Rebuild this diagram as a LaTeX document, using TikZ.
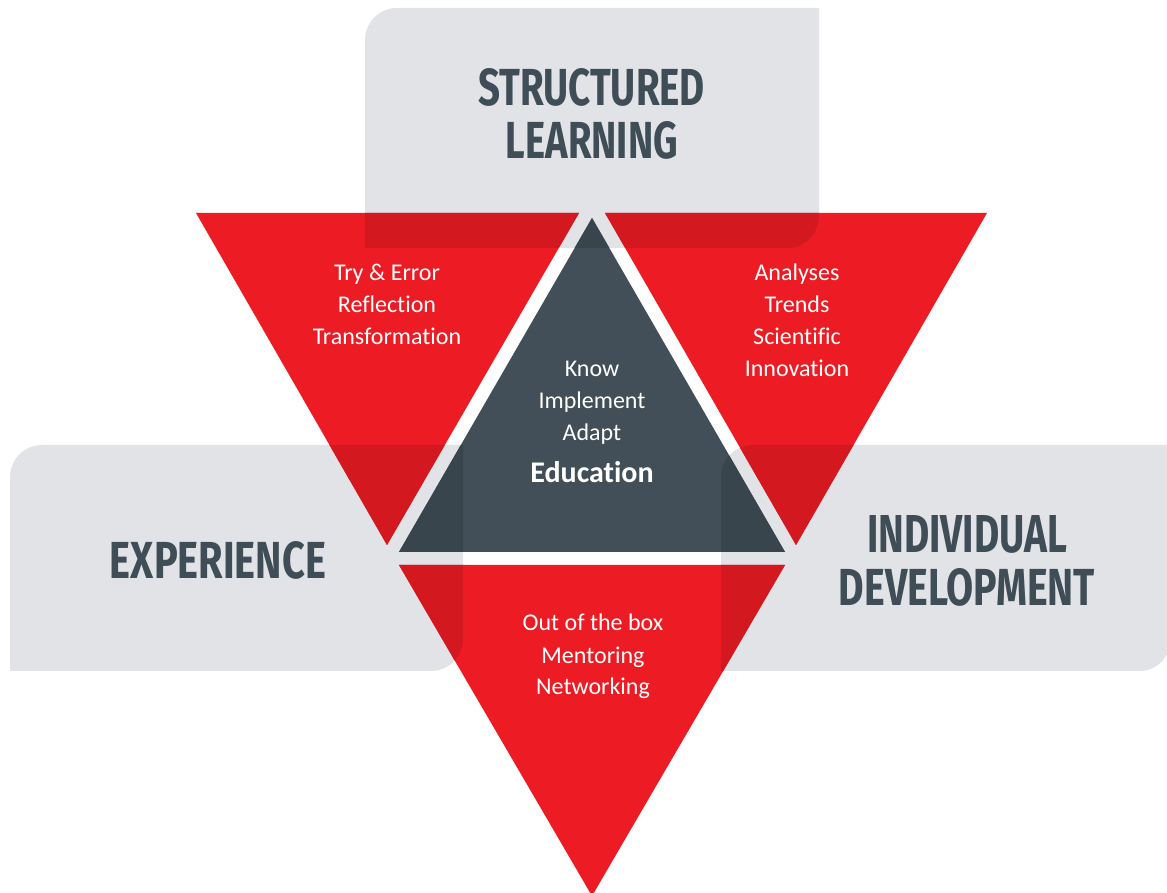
\documentclass[tikz,border=0pt]{standalone}
\usepackage{fontspec}
\setmainfont{Carlito}[Ligatures=NoCommon]
\newfontfamily\titlefont{Fira Sans}
\usepackage{graphicx}
\definecolor{cgray}{HTML}{E2E3E7}
\definecolor{cred}{HTML}{ED1C24}
\definecolor{credd}{HTML}{D3181F}
\definecolor{cslate}{HTML}{434F58}
\definecolor{cslated}{HTML}{39454D}
\definecolor{ctitle}{HTML}{3F4D57}
\tikzset{
  topbox/.style={insert path={(365,644) -- (365,852) arc[start angle=180,end angle=90,radius=32] -- (819,884) -- (819,676) arc[start angle=0,end angle=-90,radius=32] -- cycle}},
  leftbox/.style={insert path={(10,221) -- (10,415) arc[start angle=180,end angle=90,radius=32] -- (463,447) -- (463,253) arc[start angle=0,end angle=-90,radius=32] -- cycle}},
  rightbox/.style={insert path={(721,221) -- (721,415) arc[start angle=180,end angle=90,radius=32] -- (1170,447) -- (1170,251) arc[start angle=0,end angle=-90,radius=30] -- cycle}},
  lefttri/.style={insert path={(196,679) -- (579,679) -- (387,347) -- cycle}},
  righttri/.style={insert path={(605,679) -- (987,679) -- (796,347) -- cycle}},
  bottri/.style={insert path={(399,327) -- (785,327) -- (592,-4) -- cycle}},
  centri/.style={insert path={(592,674) -- (785,340) -- (399,340) -- cycle}},
  body/.style={text=white, font=\fontsize{24}{28}\selectfont, inner sep=0pt, anchor=base},
  bodybold/.style={text=white, font=\fontsize{30}{34}\selectfont\bfseries, inner sep=0pt, anchor=base},
  titletext/.style={text=ctitle, inner sep=0pt, anchor=base},
}
\newcommand{\ttl}[2]{\resizebox{#1pt}{37pt}{\titlefont\bfseries #2}}
\begin{document}
\begin{tikzpicture}[x=1pt,y=1pt]
\useasboundingbox (0,0) rectangle (1167,892);
\clip (0,0) rectangle (1167,892);
% gray panels
\fill[cgray, topbox];
\fill[cgray, leftbox];
\fill[cgray, rightbox];
% triangles
\fill[cred, lefttri];
\fill[cred, righttri];
\fill[cred, bottri];
\fill[cslate, centri];
% overlaps of panels and triangles
\begin{scope}
  \clip[lefttri];
  \fill[credd, topbox]; \fill[credd, leftbox]; \fill[credd, rightbox];
\end{scope}
\begin{scope}
  \clip[righttri];
  \fill[credd, topbox]; \fill[credd, leftbox]; \fill[credd, rightbox];
\end{scope}
\begin{scope}
  \clip[bottri];
  \fill[credd, topbox]; \fill[credd, leftbox]; \fill[credd, rightbox];
\end{scope}
\begin{scope}
  \clip[centri];
  \fill[cslated, topbox]; \fill[cslated, leftbox]; \fill[cslated, rightbox];
\end{scope}
% panel titles
\node[titletext] (sl1) at (591.5,786) {\ttl{227}{STRUCTURED}};
\node[titletext] (sl2) at (592,733) {\ttl{172}{LEARNING}};
\node[titletext] (ex1) at (218,313) {\ttl{216}{EXPERIENCE}};
\node[titletext] (id1) at (967,339) {\ttl{200}{INDIVIDUAL}};
\node[titletext] (id2) at (967,286) {\ttl{256}{DEVELOPMENT}};
% left triangle
\node[body] (l1) at (387,611) {Try \& Error};
\node[body] (l2) at (387,579) {Reflection};
\node[body] (l3) at (387,547) {Transformation};
% right triangle
\node[body] (r1) at (797,611) {Analyses};
\node[body] (r2) at (797,579) {Trends};
\node[body] (r3) at (797,547) {Scientific};
\node[body] (r4) at (797,515) {Innovation};
% centre triangle
\node[body] (c1) at (592,515) {Know};
\node[body] (c2) at (592,483) {Implement};
\node[body] (c3) at (592,451) {Adapt};
\node[bodybold] (c4) at (592,409) {Education};
% bottom triangle
\node[body] (b1) at (593,261) {Out of the box};
\node[body] (b2) at (593,229) {Mentoring};
\node[body] (b3) at (593,197) {Networking};
\end{tikzpicture}
\end{document}
